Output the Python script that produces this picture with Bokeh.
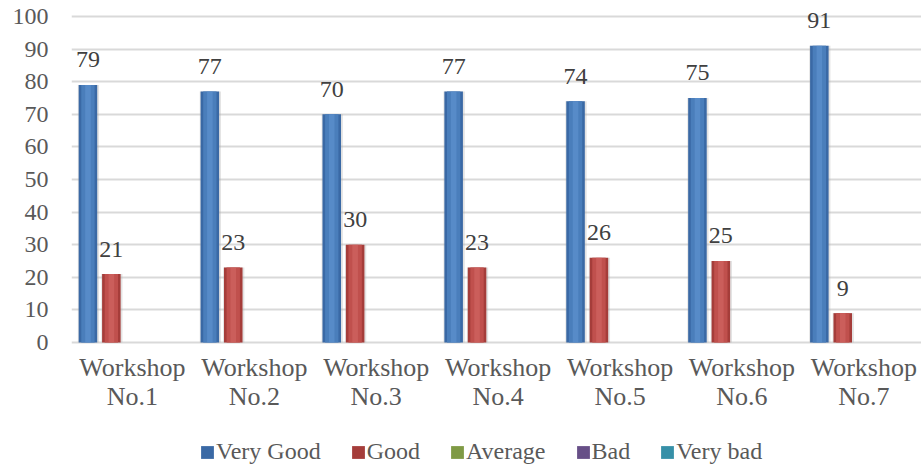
import numpy as np
from bokeh.plotting import figure
from bokeh.models import (ColumnDataSource, Range1d, FixedTicker, Legend, LegendItem)
from bokeh.transform import dodge
from bokeh.core.properties import value
from bokeh.embed import file_html
from bokeh.resources import INLINE

categories = ["Workshop No.1", "Workshop No.2", "Workshop No.3", "Workshop No.4",
              "Workshop No.5", "Workshop No.6", "Workshop No.7"]
very_good = [79, 77, 70, 77, 74, 75, 91]
good = [21, 23, 30, 23, 26, 25, 9]
average = [0, 0, 0, 0, 0, 0, 0]
bad = [0, 0, 0, 0, 0, 0, 0]
very_bad = [0, 0, 0, 0, 0, 0, 0]
series_names = ["Very Good", "Good", "Average", "Bad", "Very bad"]
y_ticks = list(range(0, 101, 10))

FONT = "Liberation Serif"
centers = np.arange(len(categories)) + 0.5
src = ColumnDataSource(dict(x=centers, vg=very_good, g=good, a=average, b=bad, vb=very_bad,
                            vg_lbl=[str(v) for v in very_good], g_lbl=[str(v) for v in good]))

# frame spans the full height so data labels above 100 and the legend under the axis labels show
p = figure(width=921, height=468, output_backend="svg", toolbar_location=None,
           x_range=Range1d(0, 6.973), y_range=Range1d(-38.65, 104.9),
           min_border_left=71, min_border_right=0, min_border_top=0, min_border_bottom=0)
p.outline_line_color = None
p.background_fill_color = "white"

BW = 0.152
offsets = [-0.365, -0.173, 0.019, 0.211, 0.403]
cols = ["vg", "g", "a", "b", "vb"]
palette = [("#3a69a5", "#4a7ebb", "#6395d3"),
           ("#a53d3a", "#c0504d", "#d46a67"),
           ("#7f9a45", "#9bbb59", "#b2cf78"),
           ("#674f87", "#8064a2", "#9a82ba"),
           ("#3690a8", "#4bacc6", "#6fc2d8")]

main_renderers = []
for col, off, (dark, mid, light) in zip(cols, offsets, palette):
    xd = dodge("x", off, range=p.x_range)
    p.vbar(x=dodge("x", off + 0.004, range=p.x_range), top=col, width=BW + 0.022, source=src,
           fill_color="#b0b0b0", fill_alpha=0.35, line_color=None)
    r = p.vbar(x=xd, top=col, width=BW, source=src, fill_color=dark, line_color=None)
    p.vbar(x=xd, top=col, width=BW * 0.72, source=src, fill_color=mid, line_color=None)
    p.vbar(x=xd, top=col, width=BW * 0.3, source=src, fill_color=light, fill_alpha=0.55,
           line_color=None)
    main_renderers.append(r)

for col, off in [("vg_lbl", offsets[0]), ("g_lbl", offsets[1])]:
    p.text(x=dodge("x", off, range=p.x_range), y=col.replace("_lbl", ""), text=col, source=src,
           text_font=value(FONT), text_font_size="24px", text_color="#404040",
           text_align="center", text_baseline="alphabetic", y_offset=-25)

p.yaxis.ticker = FixedTicker(ticks=y_ticks)
p.xaxis.ticker = FixedTicker(ticks=list(centers))
p.xaxis.fixed_location = 0
p.xaxis.major_label_overrides = {float(c): lbl.replace(" ", "\n") for c, lbl in zip(centers, categories)}
for ax in (p.xaxis[0], p.yaxis[0]):
    ax.axis_line_color = None
    ax.major_tick_line_color = None
    ax.minor_tick_line_color = None
    ax.major_tick_out = 0
    ax.minor_tick_out = 0
    ax.major_label_text_font = FONT
    ax.major_label_text_color = "#595959"
p.yaxis.major_label_text_font_size = "24px"
p.xaxis.major_label_text_font_size = "26px"
p.xaxis.major_label_text_line_height = 1.0
p.yaxis.major_label_standoff = 23
p.xaxis.major_label_standoff = 11

p.xgrid.grid_line_color = None
p.ygrid.ticker = FixedTicker(ticks=y_ticks)
p.ygrid.grid_line_color = "#d9d9d9"
p.ygrid.grid_line_width = 2

legend = Legend(items=[LegendItem(label=n, renderers=[r]) for n, r in zip(series_names, main_renderers)],
                orientation="horizontal", location=(128, 3),
                label_text_font=FONT, label_text_font_size="24px", label_text_color="#595959",
                glyph_width=16, glyph_height=16, label_standoff=1, spacing=29, label_height=24,
                padding=0, margin=0, border_line_color=None, background_fill_alpha=0)
p.add_layout(legend, "center")

open("out.html", "w").write(file_html(p, INLINE))
